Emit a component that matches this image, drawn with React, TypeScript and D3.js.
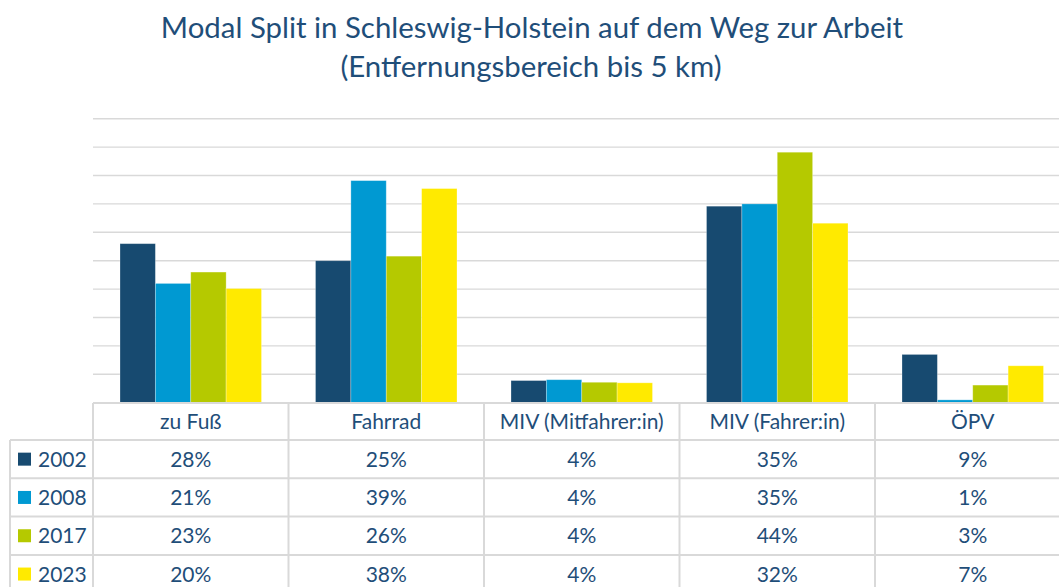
import React, { useRef, useEffect } from 'react';
import * as d3 from 'd3';

const categories = ['zu Fuß', 'Fahrrad', 'MIV (Mitfahrer:in)', 'MIV (Fahrer:in)', 'ÖPV'];
const years = ['2002', '2008', '2017', '2023'];
const values2002 = [28, 25, 3.9, 34.6, 8.5];
const values2008 = [21, 39.1, 4.05, 35, 0.5];
const values2017 = [23, 25.8, 3.6, 44.1, 3.1];
const values2023 = [20.1, 37.7, 3.5, 31.6, 6.5];
const colors = ['#174a70', '#0099d2', '#b5c900', '#ffea00'];
const yTicks = [0, 5, 10, 15, 20, 25, 30, 35, 40, 45, 50];

const series = [values2002, values2008, values2017, values2023];

const W = 1059;
const H = 587;
const textColor = '#1f4e79';
const gridColor = '#d9d9d9';
const font = 'Lato, "Open Sans", sans-serif';

const App = () => {
  const ref = useRef(null);

  useEffect(() => {
    d3.select(ref.current).select('svg').remove();

    const svg = d3.select(ref.current)
      .append('svg')
      .attr('width', W)
      .attr('height', H)
      .style('display', 'block')
      .style('font-family', font);

    const left = 93;
    const catW = 195.5;
    const x = d3.scaleBand()
      .domain(categories)
      .range([left, left + catW * categories.length]);

    const inner = d3.scaleBand()
      .domain(years)
      .range([27, catW - 27]);

    const y = d3.scaleLinear()
      .domain([0, 50])
      .range([402.7, 118.7]);

    // title
    svg.append('text')
      .attr('x', 532)
      .attr('y', 38)
      .attr('text-anchor', 'middle')
      .attr('fill', textColor)
      .style('font-size', '29.4px')
      .text('Modal Split in Schleswig-Holstein auf dem Weg zur Arbeit');
    svg.append('text')
      .attr('x', 531)
      .attr('y', 77)
      .attr('text-anchor', 'middle')
      .attr('fill', textColor)
      .style('font-size', '29.4px')
      .text('(Entfernungsbereich bis 5 km)');

    // gridlines
    svg.append('g')
      .selectAll('line')
      .data(yTicks.slice(1))
      .enter()
      .append('line')
      .attr('x1', left)
      .attr('x2', W)
      .attr('y1', d => y(d))
      .attr('y2', d => y(d))
      .attr('stroke', gridColor)
      .attr('stroke-width', 1.4);

    // bars
    series.forEach((vals, si) => {
      svg.append('g')
        .selectAll('rect')
        .data(vals)
        .enter()
        .append('rect')
        .attr('x', (d, i) => x(categories[i]) + inner(years[si]))
        .attr('y', d => y(d))
        .attr('width', inner.bandwidth())
        .attr('height', d => y(0) - y(d))
        .attr('fill', colors[si])
        .attr('stroke', 'rgba(255,255,255,0.35)')
        .attr('stroke-width', 0.8);
    });

    // data table
    const headTop = 403;
    const headBottom = 440;
    const rowH = 38.3;
    const keyLeft = 10;
    const right = left + catW * categories.length;
    const g = svg.append('g');
    const line = (x1, y1, x2, y2) => g.append('line')
      .attr('x1', x1).attr('y1', y1).attr('x2', x2).attr('y2', y2)
      .attr('stroke', gridColor).attr('stroke-width', 2);

    line(left, headTop, right, headTop);
    line(keyLeft, headBottom, right, headBottom);
    years.forEach((yr, i) => line(keyLeft, headBottom + rowH * (i + 1), right, headBottom + rowH * (i + 1)));
    line(keyLeft, headBottom, keyLeft, H);
    categories.forEach(c => line(x(c), headTop, x(c), H));

    g.selectAll('.cat')
      .data(categories)
      .enter()
      .append('text')
      .attr('class', 'cat')
      .attr('x', d => x(d) + catW / 2)
      .attr('y', 429)
      .attr('text-anchor', 'middle')
      .attr('fill', textColor)
      .style('font-size', '21px')
      .text(d => d);

    years.forEach((yr, si) => {
      const cy = headBottom + rowH * si + rowH / 2;
      g.append('rect')
        .attr('x', 18)
        .attr('y', cy - 6.5)
        .attr('width', 13)
        .attr('height', 13)
        .attr('fill', colors[si]);
      g.append('text')
        .attr('x', 38)
        .attr('y', cy + 7.5)
        .attr('fill', textColor)
        .style('font-size', '21px')
        .text(yr);
      g.selectAll(null)
        .data(series[si])
        .enter()
        .append('text')
        .attr('x', (d, i) => x(categories[i]) + catW / 2)
        .attr('y', cy + 7.5)
        .attr('text-anchor', 'middle')
        .attr('fill', textColor)
        .style('font-size', '21px')
        .text(d => `${Math.round(d)}%`);
    });
  }, []);

  return (
    <div ref={ref} style={{ position: 'absolute', left: 0, top: 0, width: W, height: H, overflow: 'hidden', background: '#fff' }} />
  );
};

export default App;
